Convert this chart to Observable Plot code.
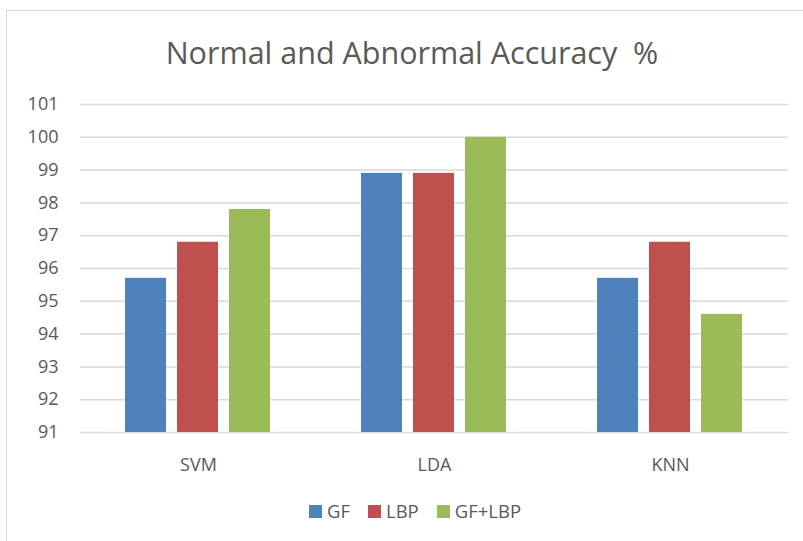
<!DOCTYPE html>
<html>
<head>
<meta charset="utf-8">
<script src="https://cdn.jsdelivr.net/npm/d3@7"></script>
<script src="https://cdn.jsdelivr.net/npm/@observablehq/plot@0.6"></script>
<style>
  html, body { margin: 0; padding: 0; background: #fff; }
  #wrap { position: relative; width: 803px; height: 541px; overflow: hidden; font-family: "Open Sans", sans-serif; color: #595959; }
  #frame { position: absolute; left: 6px; top: 10px; width: 900px; height: 700px; border-left: 1.5px solid #D9D9D9; border-top: 1.5px solid #D9D9D9; }
  #title { position: absolute; left: 0; top: 37px; width: 824px; text-align: center; font-size: 30.5px; line-height: 30px; white-space: pre; }
  #chart { position: absolute; left: 0; top: 0; }
  #legend { position: absolute; left: 309px; top: 502px; display: flex; align-items: center; font-size: 18.5px; line-height: 18px; }
  #legend .item { display: flex; align-items: center; margin-right: 18px; }
  #legend .sw { width: 13px; height: 13px; margin-right: 5px; }
</style>
</head>
<body>
<div id="wrap">
  <div id="frame"></div>
  <div id="chart"></div>
  <div id="title"></div>
  <div id="legend"></div>
</div>
<script>
const title = "Normal and Abnormal Accuracy  %";
const categories = ["SVM", "LDA", "KNN"];
const series = ["GF", "LBP", "GF+LBP"];
const gfValues = [95.7, 98.9, 95.7];
const lbpValues = [96.8, 98.9, 96.8];
const gfLbpValues = [97.8, 100, 94.6];
const yTicks = [91, 92, 93, 94, 95, 96, 97, 98, 99, 100, 101];
const colors = ["#4F81BD", "#C0504D", "#9BBB59"];

const valuesBySeries = [gfValues, lbpValues, gfLbpValues];
const data = [];
categories.forEach((c, i) => {
  series.forEach((s, j) => {
    data.push({category: c, series: s, value: valuesBySeries[j][i]});
  });
});

document.getElementById("title").textContent = title;

const chart = Plot.plot({
  width: 803,
  height: 480,
  marginTop: 104,
  marginBottom: 48,
  marginLeft: 79,
  marginRight: 14,
  style: {fontFamily: "Open Sans, sans-serif", fontSize: "18px", color: "#595959", background: "transparent"},
  fx: {domain: categories, padding: 0, label: null},
  x: {domain: series, paddingInner: 0.21, paddingOuter: 0.868, axis: null},
  y: {domain: [91, 101], label: null},
  color: {domain: series, range: colors},
  marks: [
    Plot.ruleY(yTicks, {stroke: "#D9D9D9", strokeWidth: 1.5}),
    Plot.barY(data, {fx: "category", x: "series", y1: 91, y2: "value", fill: "series"}),
    Plot.axisY(yTicks, {tickSize: 0, tickPadding: 22, label: null, fontSize: 18}),
    Plot.axisFx({anchor: "bottom", tickSize: 0, tickPadding: 26, label: null, fontSize: 18})
  ]
});
document.getElementById("chart").appendChild(chart);

const legend = document.getElementById("legend");
series.forEach((s, j) => {
  const item = document.createElement("div");
  item.className = "item";
  const sw = document.createElement("span");
  sw.className = "sw";
  sw.style.background = colors[j];
  const t = document.createElement("span");
  t.textContent = s;
  item.appendChild(sw);
  item.appendChild(t);
  legend.appendChild(item);
});
</script>
</body>
</html>
